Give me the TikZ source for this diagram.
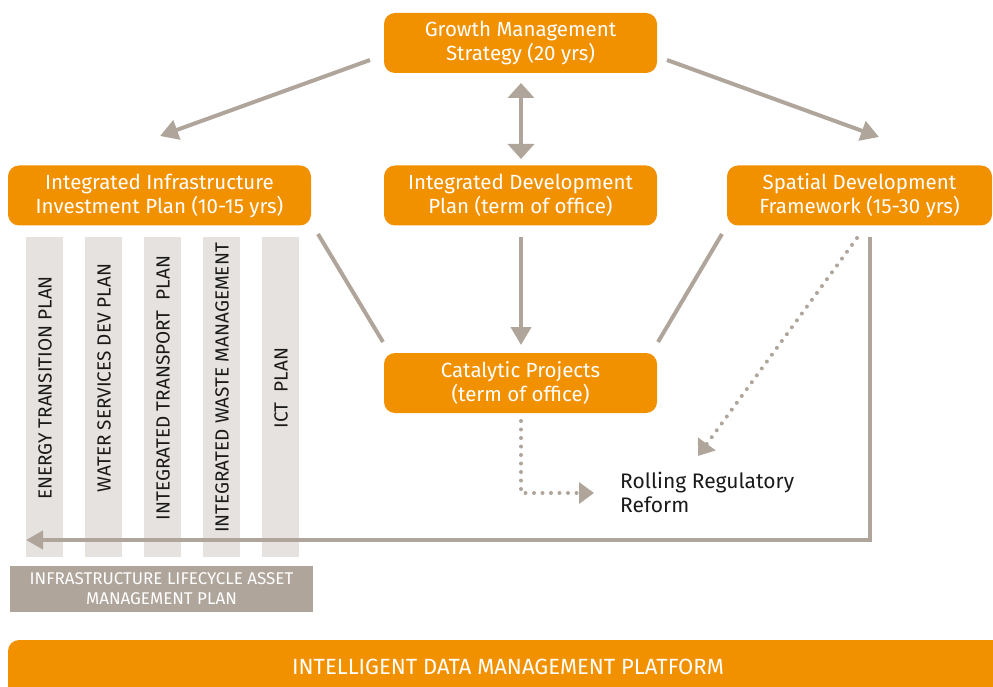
\documentclass[tikz,border=0pt]{standalone}
\usepackage{fontspec}
\setmainfont{Fira Sans}
\usetikzlibrary{arrows.meta}
\definecolor{orng}{HTML}{F29100}
\definecolor{gry}{HTML}{AFA59B}
\definecolor{strip}{HTML}{E6E2DF}
\definecolor{ink}{HTML}{1A1A1A}
\tikzset{
  box/.style={fill=orng, rounded corners=11pt, text=white, align=center,
    minimum width=273pt, minimum height=60pt, inner sep=0pt,
    font=\fontsize{20.5}{24}\selectfont},
  stripbox/.style={fill=strip, minimum width=37pt, minimum height=320pt, inner sep=0pt},
  striptext/.style={rotate=90, text=ink, font=\fontsize{19}{20}\selectfont},
  arr/.style={draw=gry, line width=4pt, -{Triangle[length=18pt,width=20pt]}},
  dbl/.style={draw=gry, line width=4pt, {Triangle[length=15pt,width=26pt]}-{Triangle[length=15pt,width=26pt]}},
  plain/.style={draw=gry, line width=4pt},
  dots/.style={draw=gry, line width=4pt, line cap=round, dash pattern=on 0pt off 8.5pt,
    -{Triangle[length=15pt,width=21pt]}},
}
\begin{document}
\begin{tikzpicture}[x=1pt,y=-1pt]
\useasboundingbox (0,0) rectangle (993,687);
% boxes
\node[box] (gms) at (520.5,43) {Growth Management\\Strategy (20 yrs)};
\node[box, minimum width=303pt] (iiip) at (159.5,195.5) {Integrated Infrastructure\\Investment Plan (10-15 yrs)};
\node[box] (idp) at (520.5,195.5) {Integrated Development\\Plan (term of office)};
\node[box, minimum width=265pt] (sdf) at (859.5,195.5) {Spatial Development\\Framework (15-30 yrs)};
\node[box] (cat) at (520.5,383) {Catalytic Projects\\(term of office)};
% strips
\node[stripbox] (s1) at (44.5,397) {};
\node[stripbox] (s2) at (103.5,397) {};
\node[stripbox] (s3) at (162.5,397) {};
\node[stripbox] (s4) at (221.5,397) {};
\node[stripbox] (s5) at (280.5,397) {};
\node[striptext] (t1) at (45,388) {ENERGY TRANSITION PLAN};
\node[striptext] (t2) at (104,378) {WATER SERVICES DEV PLAN};
\node[striptext] (t3) at (163,388) {INTEGRATED TRANSPORT\ \ PLAN};
\node[striptext] (t4) at (222,388) {INTEGRATED WASTE MANAGEMENT};
\node[striptext] (t5) at (281,388) {ICT\ \ PLAN};
% asset plan
\node[fill=gry, minimum width=303pt, minimum height=46pt, inner sep=0pt, text=white, align=center,
  font=\fontsize{17}{20}\selectfont] (ilamp) at (161.5,589) {INFRASTRUCTURE LIFECYCLE ASSET\\MANAGEMENT PLAN};
% data platform
\fill[orng, rounded corners=11pt] (8,640) rectangle (1020,710);
\node[text=white, font=\fontsize{22}{24}\selectfont] (idmp) at (508,667) {INTELLIGENT DATA MANAGEMENT PLATFORM};
% rolling
\node[anchor=base west, align=left, text=ink, inner sep=0pt, font=\fontsize{21}{24}\selectfont] (rrr) at (620,512) {Rolling Regulatory\\Reform};
% coordinates
\coordinate (g1) at (370,60); \coordinate (i1) at (160,136);
\coordinate (g2) at (667,60); \coordinate (s1e) at (879,137);
\coordinate (gd) at (521,83); \coordinate (dg) at (521,159);
\coordinate (d1) at (521,237); \coordinate (c1) at (521,345);
\coordinate (ii) at (318,234); \coordinate (ci) at (383,342);
\coordinate (sd) at (722,234); \coordinate (cs) at (658,342);
\coordinate (sq) at (857,238); \coordinate (rq) at (698,456);
\coordinate (cq) at (521,421); \coordinate (rc) at (594,493);
\coordinate (sb) at (870,237); \coordinate (ab) at (26,540);
% connectors
\draw[arr] (g1) -- (i1);
\draw[arr] (g2) -- (s1e);
\draw[dbl] (gd) -- (dg);
\draw[arr] (d1) -- (c1);
\draw[plain] (ii) -- (ci);
\draw[plain] (sd) -- (cs);
\draw[dots] (sq) -- (rq);
\draw[dots] (cq) |- (rc);
\draw[draw=gry, line width=4pt, -{Triangle[length=17pt,width=18pt]}] (sb) |- (ab);
\end{tikzpicture}
\end{document}
